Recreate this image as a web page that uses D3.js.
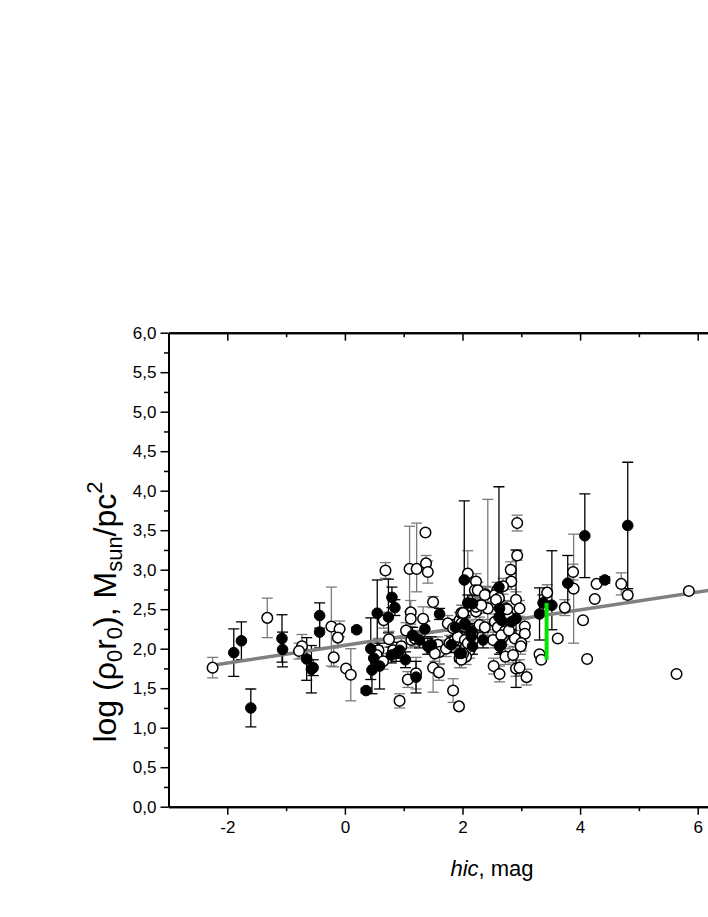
<!DOCTYPE html>
<html>
<head>
<meta charset="utf-8">
<script src="https://cdn.jsdelivr.net/npm/d3@7"></script>
<style>
  body { margin: 0; background: #fff; }
  svg { display: block; font-family: "Liberation Sans", Arial, sans-serif; }
</style>
</head>
<body>
<svg id="chart" width="708" height="917"></svg>
<script>
// open circles: [hic, log(rho0 r0), error down, error up]
var openPts = [
  [-2.25,1.76,0.13,0.13], [-1.32,2.39,0.25,0.25], [-0.73,2.03,0.15,0.15], [-0.78,1.97,0.10,0.10],
  [-0.23,2.28,0.50,0.50], [-0.09,2.25,0.10,0.10], [-0.12,2.14,0.10,0.10], [-0.19,1.89,0.12,0.12],
  [0.02,1.75,0,0], [0.10,1.67,0.33,0.33],
  [0.69,2.99,0.10,0.10], [1.10,3.01,0.54,0.54], [1.22,3.01,0.29,0.58], [1.38,3.08,0.10,0.10],
  [1.41,2.97,0.14,0.14], [1.37,3.47,0,0], [0.66,2.36,0.10,0.10], [1.50,2.59,0.07,0.07],
  [1.12,2.46,0.15,0.15], [1.12,2.38,0.10,0.10], [1.33,2.38,0.15,0.15], [0.57,1.98,0.15,0.15],
  [0.54,1.92,0.10,0.10], [0.65,1.84,0.10,0.10], [0.82,1.98,0.10,0.10], [0.96,2.03,0.10,0.10],
  [0.75,2.12,0.10,0.10], [0.93,1.34,0.09,0.09], [1.84,1.47,0.15,0.15], [1.94,1.27,0,0],
  [1.07,1.61,0.10,0.10], [1.21,1.69,0.20,0.20], [1.50,1.76,0.31,0.31], [1.60,1.70,0.10,0.10],
  [1.04,2.23,0.10,0.10], [1.13,2.11,0.10,0.10], [1.19,2.13,0.10,0.10], [1.58,2.05,0.10,0.10],
  [1.61,1.96,0.15,0.15], [1.53,1.94,0.10,0.10], [1.72,2.00,0.10,0.10], [1.78,2.07,0.10,0.10],
  [1.87,2.11,0.10,0.10], [1.92,2.15,0.15,0.15], [2.04,2.11,0.10,0.10], [2.06,2.03,0.10,0.10],
  [2.12,1.98,0.10,0.10], [2.06,1.90,0.10,0.10], [1.95,1.88,0.12,0.12], [1.75,2.32,0.10,0.10],
  [1.84,2.26,0.10,0.10], [1.95,2.36,0.10,0.10], [1.98,2.45,0.10,0.10], [2.11,2.25,0.10,0.10],
  [2.17,2.19,0.10,0.10], [2.29,2.30,0.10,0.10], [2.38,2.27,0.10,0.10], [2.09,2.95,0.10,0.29],
  [2.23,2.85,0.10,0.10], [2.21,2.74,0.10,0.10], [2.39,2.69,0.10,0.10], [2.26,2.74,0.10,0.10],
  [2.29,2.55,0.10,0.10], [2.23,2.47,0.10,0.10], [2.43,2.51,0.40,1.38], [2.38,2.68,0.10,0.10],
  [2.23,2.53,0.10,0.10], [2.32,2.55,0.10,0.10], [2.01,2.45,0.10,0.10], [1.98,2.32,0.10,0.10],
  [2.04,2.28,0.10,0.10], [2.18,2.11,0.10,0.10], [2.09,2.07,0.10,0.10], [2.01,1.94,0.10,0.10],
  [1.98,1.86,0.10,0.10], [2.52,2.11,0.10,0.10], [2.55,2.34,0.10,0.10], [2.60,2.27,0.10,0.10],
  [2.74,2.24,0.10,0.10], [2.69,2.15,0.10,0.10], [2.89,2.13,0.10,0.10], [2.73,1.90,0.10,0.10],
  [2.86,1.92,0.10,0.10], [2.53,1.78,0.10,0.10], [2.63,1.68,0.10,0.10], [2.91,1.75,0.10,0.10],
  [2.82,3.00,0.10,0.10], [2.83,2.85,0.10,0.10], [2.69,2.79,0.10,0.10], [2.59,2.74,0.10,0.10],
  [2.55,2.68,0.10,0.10], [2.62,2.64,0.10,0.10], [2.57,2.62,0.10,0.10], [2.91,2.62,0.10,0.10],
  [2.93,3.59,0.10,0.10], [2.93,3.18,0.06,0.06], [2.97,2.51,0.10,0.10], [3.06,2.28,0.10,0.10],
  [3.06,2.19,0.10,0.10], [3.00,2.07,0.10,0.10], [2.97,1.76,0.10,0.10], [3.09,1.64,0.10,0.10],
  [2.74,2.51,0.10,0.10], [2.72,2.22,0.10,0.10], [2.66,2.17,0.10,0.10], [2.80,2.40,0.10,0.10],
  [2.76,2.50,0.10,0.10], [2.79,2.23,0.10,0.10], [2.99,2.03,0.10,0.10],
  [3.44,2.71,0.10,0.10], [3.62,2.13,0,0], [3.31,1.93,0,0], [3.34,1.86,0,0],
  [3.74,2.52,0.10,0.10], [3.88,2.97,0.10,0.10], [3.89,2.76,0.69,0.69], [4.05,2.36,0,0],
  [4.12,1.87,0,0], [4.28,2.82,0,0], [4.25,2.63,0,0], [4.70,2.82,0.14,0.14],
  [4.81,2.68,0.05,0.05], [5.85,2.73,0,0], [5.64,1.68,0,0]
];

// filled circles: [hic, log(rho0 r0), error down, error up]
var filledPts = [
  [-1.89,1.95,0.30,0.30], [-1.76,2.10,0.24,0.24], [-1.60,1.25,0.24,0.24], [-1.07,2.13,0.30,0.30],
  [-1.06,1.99,0.22,0.22], [-0.65,1.87,0.27,0.27], [-0.57,1.74,0.30,0.30], [-0.54,1.76,0.10,0.10],
  [-0.43,2.42,0.16,0.16], [-0.43,2.21,0.20,0.20], [0.20,2.24,0.03,0.03], [0.36,1.47,0.03,0.03],
  [0.44,2.00,0.39,0.39], [0.49,1.88,0.10,0.10], [0.46,1.73,0.30,0.30], [0.59,1.78,0.29,0.29],
  [0.55,2.45,0.42,0.42], [0.74,2.40,0.20,0.48], [0.80,2.65,0.13,0.13], [0.85,2.52,0.10,0.10],
  [0.79,1.92,0.10,0.10], [0.87,1.94,0.10,0.10], [0.93,1.98,0.10,0.10], [1.03,1.86,0.10,0.10],
  [1.21,1.64,0.20,0.20], [1.15,2.17,0.10,0.10], [1.27,2.11,0.10,0.10], [1.36,2.25,0.10,0.10],
  [1.41,2.03,0.10,0.10], [1.47,2.05,0.10,0.10], [1.61,2.44,0.07,0.07], [1.81,2.05,0.10,0.10],
  [1.95,1.94,0.10,0.10], [1.88,2.27,0.10,0.10], [2.05,2.30,0.10,0.10], [2.03,2.87,0.40,1.00],
  [2.09,2.58,0.10,0.10], [2.17,2.57,0.10,0.10], [2.15,2.15,0.10,0.10], [2.17,2.03,0.10,0.10],
  [2.04,2.32,0.10,0.10], [2.15,2.22,0.10,0.10], [1.98,1.94,0.10,0.10], [2.35,2.11,0.10,0.10],
  [2.63,2.03,0.10,0.10], [2.62,2.78,0.50,1.27], [2.63,2.51,0.10,0.10], [2.62,2.40,0.10,0.10],
  [2.66,2.36,0.10,0.10], [2.83,2.34,0.10,0.10], [2.91,2.38,0.87,0.87], [2.66,2.05,0.10,0.10],
  [3.31,2.44,0.33,0.33], [3.37,2.58,0.10,0.10], [3.52,2.55,0.31,0.69], [3.79,2.83,0.35,0.35],
  [4.08,3.43,0.53,0.53], [4.42,2.87,0.04,0.04], [4.81,3.56,0.80,0.80]
];

// grey regression line and green marker, end points
var fitLine = [[-2.25, 1.79], [6.2, 2.74]];
var greenBar = [[3.43, 1.86], [3.43, 2.58]];

var xMajor = [-2, 0, 2, 4, 6];
var xMinor = [-1, 1, 3, 5];
var yMajor = [0, 0.5, 1, 1.5, 2, 2.5, 3, 3.5, 4, 4.5, 5, 5.5, 6];
var yMinor = [0.25, 0.75, 1.25, 1.75, 2.25, 2.75, 3.25, 3.75, 4.25, 4.75, 5.25, 5.75];

var svg = d3.select("#chart");
var plotLeft = 168.5, plotTop = 332.7, plotBottom = 806.7;

var x = d3.scaleLinear().domain([-3, 7]).range([plotLeft, plotLeft + 588]);
var y = d3.scaleLinear().domain([0, 6]).range([plotBottom, plotTop]);

var comma = function(d) { return d3.format(".1f")(d).replace(".", ","); };

svg.append("defs").append("clipPath").attr("id", "plotclip")
  .append("rect").attr("x", plotLeft).attr("y", plotTop - 8)
  .attr("width", 708 - plotLeft).attr("height", plotBottom - plotTop + 16);

var plot = svg.append("g").attr("clip-path", "url(#plotclip)");

// error bars
function drawBars(pts, colour) {
  var g = plot.append("g").attr("stroke", colour).attr("stroke-width", 1.3).attr("fill", "none");
  pts.filter(function(d) { return d[2] > 0 || d[3] > 0; }).forEach(function(d) {
    var cx = x(d[0]), y0 = y(d[1] - d[2]), y1 = y(d[1] + d[3]);
    g.append("line").attr("x1", cx).attr("x2", cx).attr("y1", y0).attr("y2", y1);
    g.append("line").attr("x1", cx - 5.5).attr("x2", cx + 5.5).attr("y1", y0).attr("y2", y0);
    g.append("line").attr("x1", cx - 5.5).attr("x2", cx + 5.5).attr("y1", y1).attr("y2", y1);
  });
}
drawBars(openPts, "#7a7a7a");
drawBars(filledPts, "#000");

var line = d3.line().x(function(d) { return x(d[0]); }).y(function(d) { return y(d[1]); });

plot.append("path").datum(fitLine)
  .attr("d", line).attr("stroke", "#808080").attr("stroke-width", 3.5).attr("fill", "none");

plot.append("g").selectAll("circle").data(openPts).enter().append("circle")
  .attr("cx", function(d) { return x(d[0]); })
  .attr("cy", function(d) { return y(d[1]); })
  .attr("r", 5.3)
  .attr("fill", "#fff").attr("stroke", "#000").attr("stroke-width", 1.5);

plot.append("g").selectAll("circle").data(filledPts).enter().append("circle")
  .attr("cx", function(d) { return x(d[0]); })
  .attr("cy", function(d) { return y(d[1]); })
  .attr("r", 5.3)
  .attr("fill", "#000").attr("stroke", "#000").attr("stroke-width", 1);

plot.append("path").datum(greenBar)
  .attr("d", line).attr("stroke", "#00e600").attr("stroke-width", 4).attr("fill", "none");

// axes
function styleAxis(g) {
  g.attr("font-size", 17).attr("font-family", "'Liberation Sans', Arial, sans-serif");
  g.select(".domain").attr("stroke", "#000").attr("stroke-width", 2);
  g.selectAll(".tick line").attr("stroke", "#000").attr("stroke-width", 1.5);
  g.selectAll("text").attr("fill", "#000");
}

svg.append("g").attr("transform", "translate(0," + plotBottom + ")")
  .call(d3.axisBottom(x).tickValues(xMajor).tickSize(8).tickSizeOuter(0).tickPadding(6)
    .tickFormat(function(d) { return d; }))
  .call(styleAxis);
svg.append("g").attr("transform", "translate(0," + plotBottom + ")")
  .call(d3.axisBottom(x).tickValues(xMinor).tickSize(4.5).tickSizeOuter(0).tickFormat(""))
  .call(styleAxis);

svg.append("g").attr("transform", "translate(0," + plotTop + ")")
  .call(d3.axisTop(x).tickValues(xMajor).tickSize(-8).tickSizeOuter(0).tickFormat(""))
  .call(styleAxis);
svg.append("g").attr("transform", "translate(0," + plotTop + ")")
  .call(d3.axisTop(x).tickValues(xMinor).tickSize(-4.5).tickSizeOuter(0).tickFormat(""))
  .call(styleAxis);

svg.append("g").attr("transform", "translate(" + plotLeft + ",0)")
  .call(d3.axisLeft(y).tickValues(yMajor).tickSize(8).tickSizeOuter(0).tickPadding(4)
    .tickFormat(comma))
  .call(styleAxis);
svg.append("g").attr("transform", "translate(" + plotLeft + ",0)")
  .call(d3.axisLeft(y).tickValues(yMinor).tickSize(4.5).tickSizeOuter(0).tickFormat(""))
  .call(styleAxis);

// axis titles
var xt = svg.append("text").attr("x", 492).attr("y", 876).attr("text-anchor", "middle")
  .attr("font-size", 22).attr("fill", "#000");
xt.append("tspan").attr("font-style", "italic").text("hic");
xt.append("tspan").text(", mag");

var yt = svg.append("text")
  .attr("transform", "translate(116,612) rotate(-90)")
  .attr("text-anchor", "middle").attr("font-size", 32).attr("fill", "#000");
yt.append("tspan").text("log (\u03c1");
yt.append("tspan").attr("font-size", 22).attr("dy", 6).text("0");
yt.append("tspan").attr("dy", -6).text("r");
yt.append("tspan").attr("font-size", 22).attr("dy", 6).text("0");
yt.append("tspan").attr("dy", -6).text("), M");
yt.append("tspan").attr("font-size", 22).attr("dy", 6).text("sun");
yt.append("tspan").attr("dy", -6).text("/pc");
yt.append("tspan").attr("font-size", 22).attr("dy", -14).text("2");
</script>
</body>
</html>
